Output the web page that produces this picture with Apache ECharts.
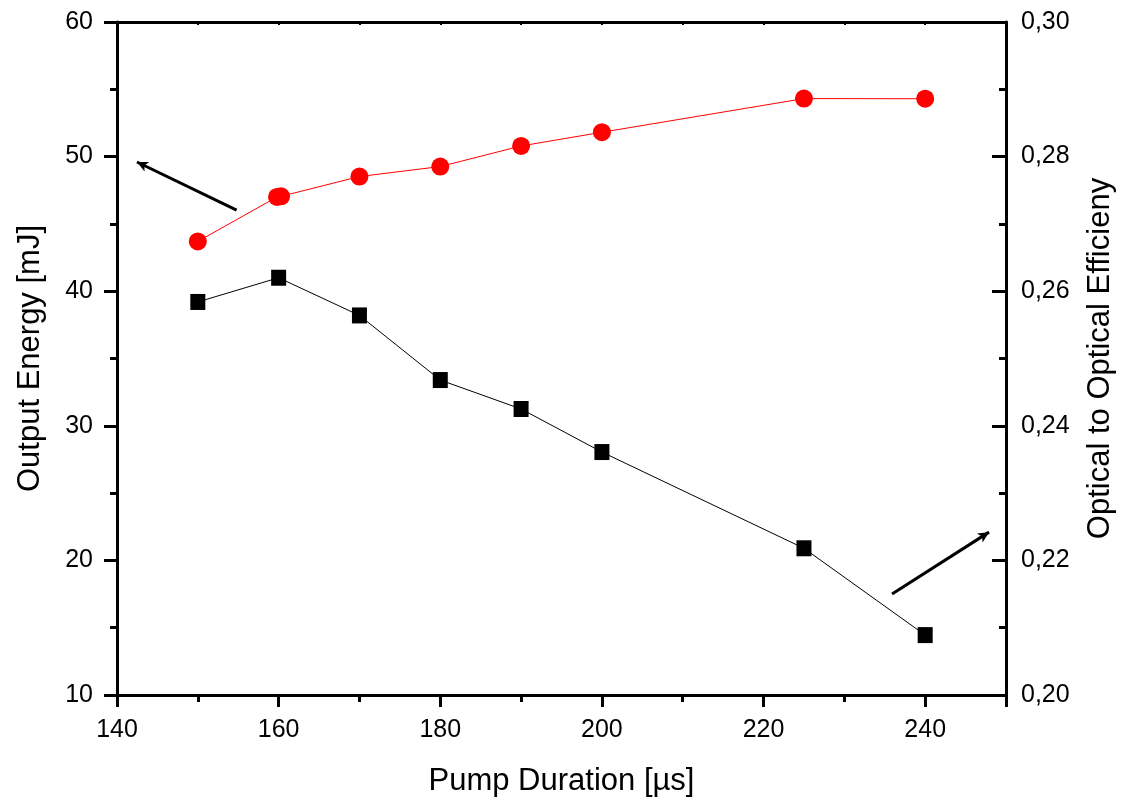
<!DOCTYPE html>
<html>
<head>
<meta charset="utf-8">
<script src="https://cdn.jsdelivr.net/npm/echarts@6/dist/echarts.min.js"></script>
<style>html,body{margin:0;padding:0;background:#fff}#c{width:1124px;height:803px}</style>
</head>
<body>
<div id="c"></div>
<script>
// Pump duration (µs)
var pumpDuration = [150, 159.8, 160.3, 170, 180, 190, 200, 225, 240];
var outputEnergy = [43.7, 47.0, 47.05, 48.52, 49.26, 50.79, 51.81, 54.31, 54.30];
var effDuration = [150, 160, 170, 180, 190, 200, 225, 240];
var efficiency = [0.2584, 0.2620, 0.2564, 0.2468, 0.2425, 0.2361, 0.2218, 0.2089];
// arrow annotations (data coordinates)
var arrowEnergy = [[154.8, 46.03], [142.47, 49.6]];
var arrowEff = [[235.9, 0.2150], [247.9, 0.2242]];

var font = 'Liberation Sans, Arial, sans-serif';
var chart = echarts.init(document.getElementById('c'), null, {renderer: 'canvas'});
var axisLine = {show: true, onZero: false, lineStyle: {color: '#000', width: 3}};
chart.setOption({
  animation: false,
  backgroundColor: '#fff',
  grid: {left: 117, right: 117, top: 22, bottom: 108, containLabel: false},
  xAxis: [{
    type: 'value', position: 'bottom', min: 140, max: 250, interval: 20,
    name: 'Pump Duration [µs]', nameLocation: 'middle', nameGap: 71,
    nameTextStyle: {fontFamily: font, fontSize: 31, color: '#000'},
    axisLine: axisLine,
    axisTick: {show: true, length: 12, lineStyle: {color: '#000', width: 3}},
    minorTick: {show: true, splitNumber: 2, length: 7, lineStyle: {color: '#000', width: 3}},
    axisLabel: {fontFamily: font, fontSize: 25, color: '#000', margin: 23,
      formatter: function (v) { return v > 245 ? '' : String(v); }},
    splitLine: {show: false}
  }, {
    type: 'value', position: 'top', min: 140, max: 250, interval: 10,
    axisLine: axisLine,
    axisTick: {show: true, inside: true, length: 3, lineStyle: {color: '#000', width: 2}},
    axisLabel: {show: false}, splitLine: {show: false}
  }],
  yAxis: [{
    type: 'value', position: 'left', min: 10, max: 60, interval: 10,
    name: 'Output Energy [mJ]', nameLocation: 'middle', nameGap: 71,
    nameTextStyle: {fontFamily: font, fontSize: 31, color: '#000'},
    axisLine: axisLine,
    axisTick: {show: true, length: 13, lineStyle: {color: '#000', width: 3}},
    minorTick: {show: true, splitNumber: 2, length: 7, lineStyle: {color: '#000', width: 3}},
    axisLabel: {fontFamily: font, fontSize: 25, color: '#000', margin: 24},
    splitLine: {show: false}
  }, {
    type: 'value', position: 'right', min: 0.20, max: 0.30, interval: 0.02,
    name: 'Optical to Optical Efficieny', nameLocation: 'middle', nameGap: 79,
    nameTextStyle: {fontFamily: font, fontSize: 31, color: '#000'},
    axisLine: axisLine,
    axisTick: {show: true, inside: true, length: 14, lineStyle: {color: '#000', width: 3}},
    minorTick: {show: true, splitNumber: 2, length: 7, lineStyle: {color: '#000', width: 3}},
    axisLabel: {fontFamily: font, fontSize: 25, color: '#000', margin: 15,
      formatter: function (v) { return v.toFixed(2).replace('.', ','); }},
    splitLine: {show: false}
  }],
  series: [{
    type: 'line', xAxisIndex: 0, yAxisIndex: 0,
    data: pumpDuration.map(function (x, i) { return [x, outputEnergy[i]]; }),
    symbol: 'circle', symbolSize: 18,
    itemStyle: {color: '#ff0000'},
    lineStyle: {color: '#ff0000', width: 1},
    markLine: {
      silent: true, symbol: ['none', 'arrow'], symbolSize: [8, 11],
      label: {show: false},
      lineStyle: {color: '#000', width: 3, type: 'solid'},
      data: [[{coord: arrowEnergy[0]}, {coord: arrowEnergy[1]}]]
    }
  }, {
    type: 'line', xAxisIndex: 0, yAxisIndex: 1,
    data: effDuration.map(function (x, i) { return [x, efficiency[i]]; }),
    symbol: 'rect', symbolSize: [15, 16],
    itemStyle: {color: '#000'},
    lineStyle: {color: '#000', width: 1},
    markLine: {
      silent: true, symbol: ['none', 'arrow'], symbolSize: [8, 11],
      label: {show: false},
      lineStyle: {color: '#000', width: 3, type: 'solid'},
      data: [[{coord: arrowEff[0]}, {coord: arrowEff[1]}]]
    }
  }]
});
</script>
</body>
</html>
